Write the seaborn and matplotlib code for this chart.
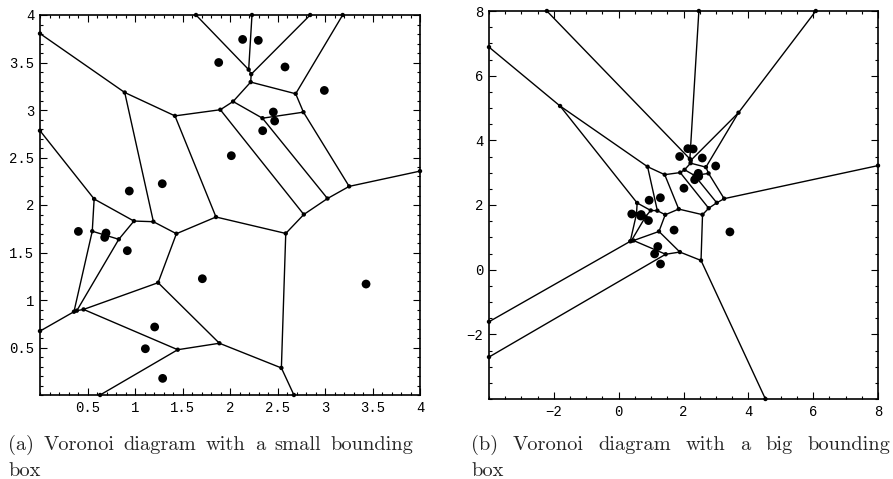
import numpy as np
import pandas as pd
import matplotlib
matplotlib.use("Agg")
import matplotlib.pyplot as plt
from matplotlib.ticker import FixedLocator, MultipleLocator
import seaborn as sns

# ---- data: generator sites ----
site_x = [0.404, 0.695, 0.681, 0.919, 0.940, 1.287, 1.709, 1.207, 1.109, 1.291,
          2.014, 2.344, 2.456, 2.470, 1.881, 2.133, 2.298, 2.579, 2.993, 3.432]
site_y = [1.722, 1.705, 1.659, 1.519, 2.147, 2.224, 1.224, 0.716, 0.487, 0.175,
          2.519, 2.782, 2.979, 2.884, 3.500, 3.743, 3.733, 3.453, 3.206, 1.168]

# bounding boxes of the two diagrams
small_box = (0.0, 4.0)
big_box = (-4.0, 8.0)

small_ticks = [0.5, 1, 1.5, 2, 2.5, 3, 3.5, 4]
small_tick_labels = ["0.5", "1", "1.5", "2", "2.5", "3", "3.5", "4"]
big_ticks = [-2, 0, 2, 4, 6, 8]
big_tick_labels = ["\u22122", "0", "2", "4", "6", "8"]

caption_a = ["(a)", "Voronoi", "diagram", "with", "a", "small", "bounding"]
caption_b = ["(b)", "Voronoi", "diagram", "with", "a", "big", "bounding"]
caption_tail = "box"


def voronoi_segments(xs, ys, lo, hi):
    P = np.column_stack([xs, ys]).astype(float)
    n = len(P)
    segs = []
    for i in range(n):
        for j in range(i + 1, n):
            pi, pj = P[i], P[j]
            m = (pi + pj) / 2.0
            v = pj - pi
            d = np.array([-v[1], v[0]]) / np.hypot(*v)
            tlo, thi = -np.inf, np.inf
            ok = True
            for k in range(n):
                if k in (i, j):
                    continue
                pk = P[k]
                a = 2.0 * d.dot(pk - pi)
                b = pk.dot(pk) - pi.dot(pi) - 2.0 * m.dot(pk - pi)
                if abs(a) < 1e-12:
                    if b < 0:
                        ok = False
                        break
                elif a > 0:
                    thi = min(thi, b / a)
                else:
                    tlo = max(tlo, b / a)
            if not ok:
                continue
            for c in range(2):
                if abs(d[c]) < 1e-12:
                    if not (lo <= m[c] <= hi):
                        ok = False
                    continue
                t1 = (lo - m[c]) / d[c]
                t2 = (hi - m[c]) / d[c]
                tlo = max(tlo, min(t1, t2))
                thi = min(thi, max(t1, t2))
            if ok and thi - tlo > 1e-9:
                segs.append((m + tlo * d, m + thi * d))
    return segs


sns.set_style("ticks")
plt.rcParams["font.family"] = ["Liberation Mono", "DejaVu Sans"]

W, H = 893, 479
fig = plt.figure(figsize=(W / 100, H / 100), dpi=100)
ax_a = fig.add_axes([40 / W, 1 - 395 / H, 380 / W, 380 / H])
ax_b = fig.add_axes([489 / W, 1 - 399 / H, 389 / W, 388 / H])

sites = pd.DataFrame({"x": site_x, "y": site_y})

for ax, box, ticks, labels, minor in [
    (ax_a, small_box, small_ticks, small_tick_labels, 0.1),
    (ax_b, big_box, big_ticks, big_tick_labels, 0.5),
]:
    segs = voronoi_segments(site_x, site_y, *box)
    for p, q in segs:
        ax.plot([p[0], q[0]], [p[1], q[1]], color="black", lw=1.0,
                solid_capstyle="round", zorder=2)
    verts = np.array([p for s in segs for p in s])
    verts = np.unique(np.round(verts, 6), axis=0)
    vdf = pd.DataFrame({"x": verts[:, 0], "y": verts[:, 1]})
    sns.scatterplot(data=vdf, x="x", y="y", ax=ax, s=10, color="black",
                    edgecolor="none", linewidth=0, zorder=3, clip_on=False)
    sns.scatterplot(data=sites, x="x", y="y", ax=ax, s=40, color="black",
                    edgecolor="none", linewidth=0, zorder=4, clip_on=False)
    ax.set_xlim(*box)
    ax.set_ylim(*box)
    ax.set_xlabel("")
    ax.set_ylabel("")
    ax.xaxis.set_major_locator(FixedLocator(ticks))
    ax.yaxis.set_major_locator(FixedLocator(ticks))
    ax.set_xticklabels(labels)
    ax.set_yticklabels(labels)
    ax.xaxis.set_minor_locator(MultipleLocator(minor))
    ax.yaxis.set_minor_locator(MultipleLocator(minor))
    ax.tick_params(which="both", direction="in", top=True, right=True,
                   labeltop=False, labelright=False, colors="black",
                   labelsize=10, width=0.8)
    ax.tick_params(which="major", length=5, pad=4)
    ax.tick_params(which="minor", length=2.5)
    for sp in ax.spines.values():
        sp.set_visible(True)
        sp.set_linewidth(1.2)
        sp.set_color("black")
    ax.set_facecolor("white")


def justify(words, x0, x1, ybase, size):
    ts = [fig.text(0, 1 - ybase / H, w, fontsize=size, family=["cmr10", "DejaVu Serif"],
                   va="baseline", ha="left") for w in words]
    r = fig.canvas.get_renderer()
    widths = [t.get_window_extent(r).width for t in ts]
    gap = (x1 - x0 - sum(widths)) / (len(words) - 1)
    x = x0
    for t, w in zip(ts, widths):
        t.set_x(x / W)
        x += w + gap


cap_size = 14.7
justify(caption_a, 8, 413, 450, cap_size)
justify(caption_b, 471, 890, 450, cap_size)
fig.text(8 / W, 1 - 476 / H, caption_tail, fontsize=cap_size,
         family=["cmr10", "DejaVu Serif"], va="baseline", ha="left")
fig.text(471 / W, 1 - 476 / H, caption_tail, fontsize=cap_size,
         family=["cmr10", "DejaVu Serif"], va="baseline", ha="left")

fig.savefig("out.png", dpi=100, facecolor="white")
